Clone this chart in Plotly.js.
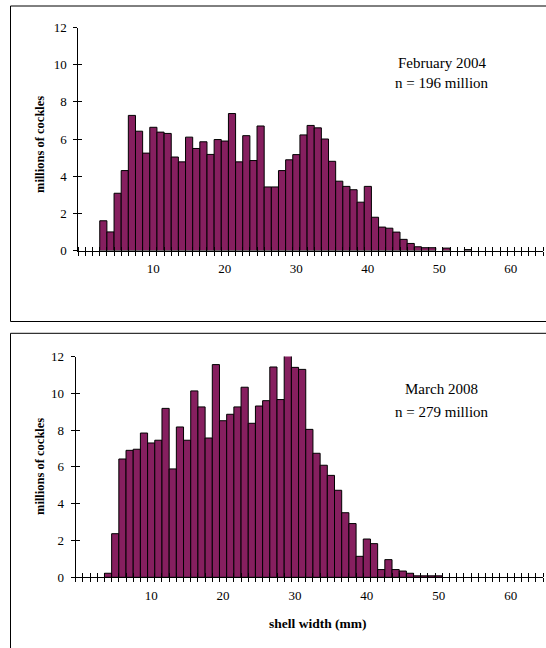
<!DOCTYPE html>
<html>
<head>
<meta charset="utf-8">
<script src="https://cdn.plot.ly/plotly-3.0.1.min.js"></script>
<style>html,body{margin:0;padding:0;background:#fff;}#chart{width:546px;height:648px;}</style>
</head>
<body>
<div id="chart"></div>
<script>
// shell width classes (mm)
const widthClasses = [0,1,2,3,4,5,6,7,8,9,10,11,12,13,14,15,16,17,18,19,20,21,22,23,24,25,26,27,28,29,30,31,32,33,34,35,36,37,38,39,40,41,42,43,44,45,46,47,48,49,50,51,52,53,54];
// February 2004, millions of cockles
const feb2004 = [0,0,0,1.6,1.0,3.08,4.3,7.27,6.42,5.24,6.63,6.37,6.3,5.03,4.77,6.1,5.49,5.85,5.17,5.97,5.89,7.37,4.77,6.18,4.84,6.7,3.42,3.42,4.3,4.88,5.16,6.22,6.73,6.6,6.0,4.8,3.73,3.45,3.27,2.6,3.45,1.79,1.26,1.2,0.99,0.6,0.38,0.2,0.15,0.15,0,0.13,0,0,0.05];
// March 2008, millions of cockles
const mar2008 = [0,0,0,0,0.22,2.37,6.43,6.9,6.96,7.84,7.3,7.45,9.18,5.89,8.17,7.45,10.13,9.26,7.57,11.56,8.51,8.86,9.26,10.33,8.37,9.31,9.6,11.43,9.66,12.1,11.41,11.3,8.04,6.74,6.09,5.54,4.73,3.51,2.92,1.14,2.08,1.83,0.42,0.96,0.42,0.34,0.22,0.08,0.08,0.08,0.08,0,0,0,0];
const xTickVals = [10,20,30,40,50,60];
const yTickVals = [0,2,4,6,8,10,12];
const panelLabels = [["February 2004","n = 196 million"],["March 2008","n = 279 million"]];
const yTitle = "millions of cockles";
const xTitle = "shell width (mm)";

const W = 546, H = 648;
const barColor = "#861f5f";
const serif = "Liberation Serif, Times New Roman, serif";
const nz = a => a.map(v => v === 0 ? null : v);

function barTrace(vals, xa, ya){
  return {type:'bar', x: widthClasses, y: nz(vals), xaxis: xa, yaxis: ya,
    width: 1, marker:{color: barColor, line:{color:'#000', width:1}},
    cliponaxis:false, hoverinfo:'skip', showlegend:false};
}
const emptyTrace = (xa, ya) => ({type:'scatter', x:[], y:[], xaxis: xa, yaxis: ya, showlegend:false, hoverinfo:'skip'});

const xr = [-0.5, 64.5];
function mainX(domain, anchor){
  return {domain, anchor, range: xr, tickmode:'array', tickvals: xTickVals, ticks:'',
    showline:true, linecolor:'#000', linewidth:1, showgrid:false, zeroline:false,
    tickfont:{family: serif, size:13, color:'#000'}, ticklabelstandoff: 6,
    minor:{tickmode:'linear', tick0:-0.5, dtick:1, ticks:'outside', ticklen:4, tickcolor:'#000', tickwidth:1, showgrid:false}};
}
function overX(over, anchor){
  return {overlaying: over, anchor, range: xr, tickmode:'array', tickvals: xTickVals, ticks:'',
    showticklabels:false, showline:false, showgrid:false, zeroline:false,
    minor:{tickmode:'linear', tick0:-0.5, dtick:1, ticks:'inside', ticklen:4, tickcolor:'#000', tickwidth:1, showgrid:false}};
}
function mainY(domain, anchor){
  return {domain, anchor, range:[0,12], tickmode:'array', tickvals: yTickVals, ticks:'outside', ticklen:4,
    tickcolor:'#000', showline:true, linecolor:'#000', linewidth:1, showgrid:false, zeroline:false,
    tickfont:{family: serif, size:13, color:'#000'}, ticklabelstandoff: 4};
}
function overY(over, anchor){
  return {overlaying: over, anchor, range:[0,12], tickmode:'array', tickvals: yTickVals, ticks:'inside', ticklen:4,
    tickcolor:'#000', showticklabels:false, showline:false, showgrid:false, zeroline:false};
}

const px = v => v / W;
const py = v => 1 - v / H;

const data = [
  barTrace(feb2004, 'x', 'y'),
  barTrace(mar2008, 'x2', 'y2'),
  emptyTrace('x3','y3'),
  emptyTrace('x4','y4')
];

const layout = {
  width: W, height: H,
  margin:{l:0, r:0, t:0, b:0},
  paper_bgcolor:'#fff', plot_bgcolor:'rgba(0,0,0,0)',
  bargap:0,
  xaxis: mainX([px(78.3), px(543)], 'y'),
  yaxis: mainY([py(250.5), py(27.5)], 'x'),
  xaxis2: mainX([px(75.7), px(543)], 'y2'),
  yaxis2: mainY([py(577.3), py(356.5)], 'x2'),
  xaxis3: overX('x', 'y3'),
  yaxis3: overY('y', 'x3'),
  xaxis4: overX('x2', 'y4'),
  yaxis4: overY('y2', 'x4'),
  shapes: [
    {type:'rect', xref:'paper', yref:'paper', x0: px(10.5), x1: 1.02, y0: py(321.5), y1: py(6), line:{color:'#000', width:1}, layer:'below'},
    {type:'rect', xref:'paper', yref:'paper', x0: px(10.5), x1: 1.02, y0: -0.02, y1: py(333.3), line:{color:'#000', width:1}, layer:'below'}
  ],
  annotations: [
    {xref:'paper', yref:'paper', x: px(442), y: py(62.7), text: panelLabels[0][0], showarrow:false, xanchor:'center', yanchor:'middle', font:{family: serif, size:15, color:'#000'}},
    {xref:'paper', yref:'paper', x: px(442), y: py(83.3), text: panelLabels[0][1], showarrow:false, xanchor:'center', yanchor:'middle', font:{family: serif, size:15, color:'#000'}},
    {xref:'paper', yref:'paper', x: px(441.5), y: py(389.3), text: panelLabels[1][0], showarrow:false, xanchor:'center', yanchor:'middle', font:{family: serif, size:15, color:'#000'}},
    {xref:'paper', yref:'paper', x: px(441.5), y: py(411.7), text: panelLabels[1][1], showarrow:false, xanchor:'center', yanchor:'middle', font:{family: serif, size:15, color:'#000'}},
    {xref:'paper', yref:'paper', x: px(40), y: py(145), text: yTitle, textangle:-90, showarrow:false, xanchor:'center', yanchor:'middle', font:{family: serif, size:12.5, color:'#000', weight:'bold'}},
    {xref:'paper', yref:'paper', x: px(40), y: py(467), text: yTitle, textangle:-90, showarrow:false, xanchor:'center', yanchor:'middle', font:{family: serif, size:12.5, color:'#000', weight:'bold'}},
    {xref:'paper', yref:'paper', x: px(318), y: py(623), text: xTitle, showarrow:false, xanchor:'center', yanchor:'middle', font:{family: serif, size:13.5, color:'#000', weight:'bold'}}
  ]
};

Plotly.newPlot('chart', data, layout, {staticPlot:true, displayModeBar:false});
</script>
</body>
</html>
